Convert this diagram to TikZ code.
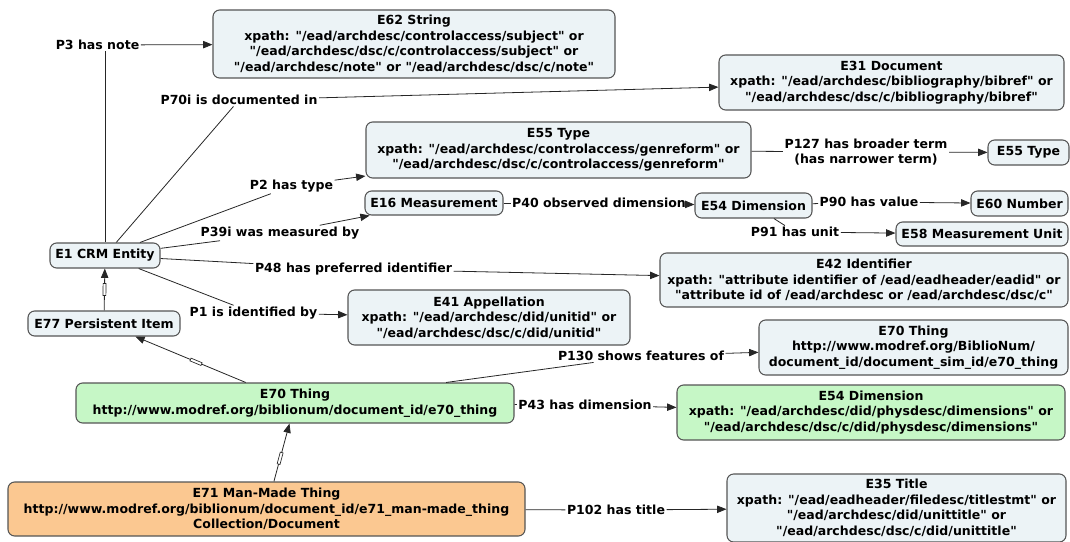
\documentclass[tikz,border=0pt]{standalone}
\usepackage{fontspec}
\newfontfamily\vfont{DejaVu Sans}
\usetikzlibrary{arrows.meta}
\definecolor{boxblue}{RGB}{236,243,246}
\definecolor{boxgreen}{RGB}{198,247,198}
\definecolor{boxorange}{RGB}{251,200,145}
\definecolor{boxline}{RGB}{85,85,85}
\begin{document}
\begin{tikzpicture}[x=0.75pt,y=-0.75pt,
  txt/.style={font=\vfont\bfseries\fontsize{9.4pt}{11.6pt}\selectfont},
  ent/.style={txt, draw=boxline, fill=boxblue, rounded corners=5pt, line width=0.8pt, align=center, inner sep=0pt},
  grn/.style={ent, fill=boxgreen},
  org/.style={ent, fill=boxorange},
  sz/.style 2 args={minimum width=#1*0.75pt, minimum height=#2*0.75pt},
  lab/.style={txt, inner sep=1pt, align=center},
  con/.style={draw=black!85, line width=0.6pt},
  arr/.style={con, -{Triangle[length=7pt,width=5.5pt]}},
  subm/.style={sloped, draw=black!85, fill=white, line width=0.5pt, minimum width=9pt, minimum height=2.2pt, inner sep=0pt}
]
\useasboundingbox (0,0) rectangle (1070,542);

% entity nodes
\node[ent, sz={402}{68}] (E62) at (414,44) {E62 String\\xpath: "/ead/archdesc/controlaccess/subject" or\\"/ead/archdesc/dsc/c/controlaccess/subject" or\\"/ead/archdesc/note" or "/ead/archdesc/dsc/c/note"};
\node[ent, sz={345}{55}] (E31) at (891.5,82.5) {E31 Document\\xpath: "/ead/archdesc/bibliography/bibref" or\\"/ead/archdesc/dsc/c/bibliography/bibref"};
\node[ent, sz={385}{56}] (E55b) at (558.5,150) {E55 Type\\xpath: "/ead/archdesc/controlaccess/genreform" or\\"/ead/archdesc/dsc/c/controlaccess/genreform"};
\node[ent, sz={81}{25}] (E55s) at (1028.5,152.5) {E55 Type};
\node[ent, sz={138}{24}] (E16) at (434,203) {E16 Measurement};
\node[ent, sz={117}{25}] (E54s) at (753.5,205.5) {E54 Dimension};
\node[ent, sz={97}{25}] (E60) at (1019.5,203.5) {E60 Number};
\node[ent, sz={172}{24}] (E58) at (982,234) {E58 Measurement Unit};
\node[ent, sz={110}{25}] (E1) at (105,255.5) {E1 CRM Entity};
\node[ent, sz={408}{54}] (E42) at (864,280) {E42 Identifier\\xpath: "attribute identifier of /ead/eadheader/eadid" or\\"attribute id of /ead/archdesc or /ead/archdesc/dsc/c"};
\node[ent, sz={282}{55}] (E41) at (489,317.5) {E41 Appellation\\xpath: "/ead/archdesc/did/unitid" or\\"/ead/archdesc/dsc/c/did/unitid"};
\node[ent, sz={152}{25}] (E77) at (104,323.5) {E77 Persistent Item};
\node[ent, sz={309}{55}] (E70b) at (913.5,347.5) {E70 Thing\\http://www.modref.org/BiblioNum/\\document\_id/document\_sim\_id/e70\_thing};
\node[grn, sz={438}{40}] (E70g) at (295,403) {E70 Thing\\http://www.modref.org/biblionum/document\_id/e70\_thing};
\node[grn, sz={388}{55}] (E54g) at (871,412.5) {E54 Dimension\\xpath: "/ead/archdesc/did/physdesc/dimensions" or\\"/ead/archdesc/dsc/c/did/physdesc/dimensions"};
\node[org, sz={517}{54}] (E71) at (266.5,509) {E71 Man-Made Thing\\http://www.modref.org/biblionum/document\_id/e71\_man-made\_thing\\Collection/Document};
\node[ent, sz={339}{68}] (E35) at (896.5,508) {E35 Title\\xpath: "/ead/eadheader/filedesc/titlestmt" or\\"/ead/archdesc/did/unittitle" or\\"/ead/archdesc/dsc/c/did/unittitle"};

% property labels
\node[lab] (lP3) at (97.5,45) {P3 has note};
\node[lab] (lP70) at (239,100) {P70i is documented in};
\node[lab] (lP2) at (291.5,186) {P2 has type};
\node[lab] (lP39) at (280,233) {P39i was measured by};
\node[lab] (lP48) at (353.5,269) {P48 has preferred identifier};
\node[lab] (lP1) at (253.5,313) {P1 is identified by};
\node[lab] (lP127) at (866,152) {P127 has broader term\\(has narrower term)};
\node[lab] (lP40) at (599,203) {P40 observed dimension};
\node[lab] (lP90) at (869,202) {P90 has value};
\node[lab] (lP91) at (795,232) {P91 has unit};
\node[lab] (lP130) at (641,356) {P130 shows features of};
\node[lab] (lP43) at (585,405) {P43 has dimension};
\node[lab] (lP102) at (616,510) {P102 has title};

% connectors
\draw[con] (E1.north) -- (E1.north |- lP3.south);
\draw[arr] (lP3) -- (E62);
\draw[con] (E1) -- (lP70);
\draw[arr] (lP70) -- (E31);
\draw[con] (E1) -- (lP2);
\draw[arr] (lP2) -- (E55b);
\draw[con] (E1) -- (lP39);
\draw[arr] (lP39) -- (E16);
\draw[con] (E1) -- (lP48);
\draw[arr] (lP48) -- (E42);
\draw[con] (E1) -- (lP1);
\draw[arr] (lP1) -- (E41);
\draw[con] (E55b) -- (lP127);
\draw[arr] (lP127) -- (E55s);
\draw[con] (E16) -- (lP40);
\draw[arr] (lP40) -- (E54s);
\draw[con] (E54s) -- (lP90);
\draw[arr] (lP90) -- (E60);
\draw[con] (E54s) -- (lP91);
\draw[arr] (lP91) -- (E58);
\draw[con] (E70g) -- (lP130);
\draw[arr] (lP130) -- (E70b);
\draw[con] (E70g) -- (lP43);
\draw[arr] (lP43) -- (E54g);
\draw[con] (E71) -- (lP102);
\draw[arr] (lP102) -- (E35);

% subclass links
\draw[arr] (E77) -- node[subm] {} (E1);
\draw[arr] (E70g) -- node[subm, pos=0.45] {} (E77);
\draw[arr] (E71) -- node[subm, pos=0.4] {} (E70g);
\end{tikzpicture}
\end{document}
